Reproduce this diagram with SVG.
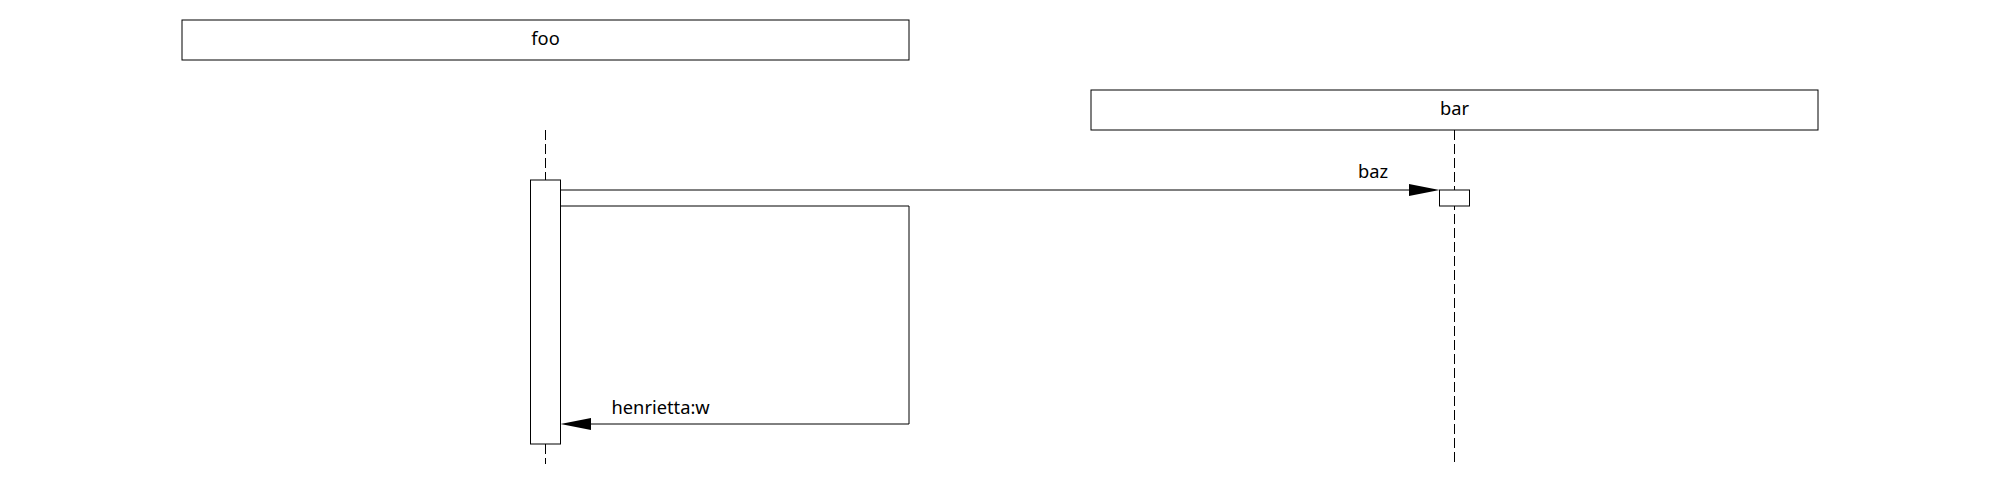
<svg xmlns="http://www.w3.org/2000/svg" width="2000" height="484" viewBox="0 0 2000 484">
<style>
.box{fill:#fff;stroke:#000;stroke-width:1}
.life{stroke:#000;stroke-width:1;stroke-dasharray:10 4;fill:none}
.msg{stroke:#000;stroke-width:1;fill:none}
.head{fill:#000;stroke:none}
text{font-family:"Noto Sans","DejaVu Sans",sans-serif;font-size:18.3px;fill:#000}
</style>
<rect width="2000" height="484" fill="#fff"/>
<g id="lifelines">
<line class="life" x1="545.5" y1="130" x2="545.5" y2="180"/>
<line class="life" x1="545.5" y1="444" x2="545.5" y2="464"/>
<line class="life" x1="1454.5" y1="130" x2="1454.5" y2="464"/>
</g>
<g id="foo">
<rect class="box" x="182" y="20" width="727" height="40"/>
<text x="545.5" y="45" text-anchor="middle">foo</text>
</g>
<g id="bar">
<rect class="box" x="1091" y="90" width="727" height="40"/>
<text x="1454.5" y="115" text-anchor="middle">bar</text>
</g>
<g id="foo-activation">
<rect class="box" x="530.5" y="180" width="30" height="264"/>
</g>
<g id="bar-activation">
<rect class="box" x="1439.5" y="190" width="30" height="16"/>
</g>
<g id="connectors">
<line class="msg" x1="560.5" y1="190" x2="1410" y2="190"/>
<polygon class="head" points="1409,184 1439.5,190 1409,196"/>
<text x="1358" y="178">baz</text>
<polyline class="msg" points="560.5,206 909,206 909,424 590,424"/>
<polygon class="head" points="591,418 560.5,424 591,430"/>
<text x="611.5" y="414">henrietta:w</text>
</g>
</svg>
